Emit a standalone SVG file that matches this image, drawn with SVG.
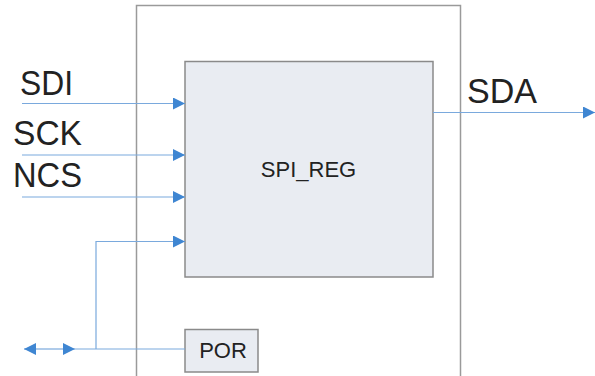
<svg xmlns="http://www.w3.org/2000/svg" width="595" height="376" viewBox="0 0 595 376">
<style>
.box{fill:#e9ecf2;stroke:#8a8a8a;stroke-width:1.5}
.outer{fill:#fff;stroke:#9a9a9a;stroke-width:1.5}
.wire{fill:none;stroke:#7aa9dd;stroke-width:1.2}
.big{font-family:"Liberation Sans",Arial,sans-serif;font-size:35px;fill:#222}
.lbl{font-family:"Liberation Sans",Arial,sans-serif;font-size:22px;fill:#222;text-anchor:middle}
</style>
<defs>
<marker id="ah" viewBox="0 0 10 10" refX="10" refY="5" markerWidth="18" markerHeight="12" markerUnits="userSpaceOnUse" orient="auto">
<path d="M0,0 L10,5 L0,10 Z" fill="#3f86d2"/>
</marker>
</defs>
<rect id="outer" class="outer" x="136.5" y="5.5" width="324" height="380"/>
<g id="spi_reg">
<rect class="box" x="185" y="61.5" width="248" height="215.5"/>
<text class="lbl" x="308.5" y="177">SPI_REG</text>
</g>
<g id="por">
<rect class="box" x="185" y="329.5" width="73" height="42.5"/>
<text class="lbl" x="223" y="358">POR</text>
</g>
<g id="labels">
<text class="big" x="20" y="95" textLength="53" lengthAdjust="spacingAndGlyphs">SDI</text>
<text class="big" x="13" y="145" textLength="69" lengthAdjust="spacingAndGlyphs">SCK</text>
<text class="big" x="13" y="187" textLength="69" lengthAdjust="spacingAndGlyphs">NCS</text>
<text class="big" x="467" y="103" textLength="70" lengthAdjust="spacingAndGlyphs">SDA</text>
</g>
<g id="connectors">
<line class="wire" x1="22" y1="103.5" x2="185" y2="103.5" marker-end="url(#ah)"/>
<line class="wire" x1="22" y1="155" x2="185" y2="155" marker-end="url(#ah)"/>
<line class="wire" x1="22" y1="197" x2="185" y2="197" marker-end="url(#ah)"/>
<polyline class="wire" points="96,349 96,241.5 185,241.5" marker-end="url(#ah)"/>
<line class="wire" x1="75" y1="349" x2="185" y2="349"/>
<line class="wire" x1="58" y1="349" x2="75" y2="349" marker-end="url(#ah)"/>
<line class="wire" x1="41" y1="349" x2="24" y2="349" marker-end="url(#ah)"/>
<line class="wire" x1="41" y1="349" x2="58" y2="349"/>
<line class="wire" x1="433" y1="112.5" x2="595" y2="112.5" marker-end="url(#ah)"/>
</g>
</svg>
